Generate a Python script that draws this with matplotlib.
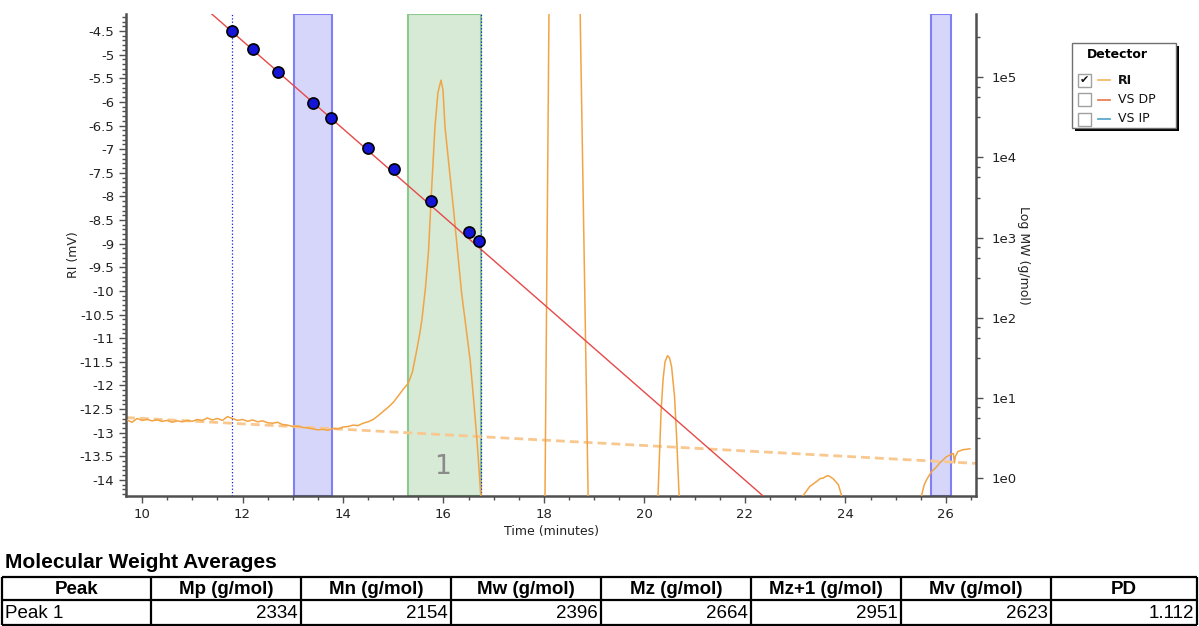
import numpy as np
import matplotlib.pyplot as plt
from matplotlib.patches import Rectangle
from matplotlib.ticker import MultipleLocator, FixedLocator, FixedFormatter

# RI detector trace: time (min) and signal (mV); values below/above the window are off-scale
ri_time = [9.72, 9.8, 9.9, 10.0, 10.1, 10.2, 10.3, 10.4, 10.5, 10.6, 10.7, 10.8, 10.9,
           11.0, 11.1, 11.2, 11.3, 11.4, 11.5, 11.6, 11.7, 11.8, 11.9, 12.0, 12.1, 12.2,
           12.3, 12.4, 12.5, 12.6, 12.7, 12.8, 12.9, 13.0, 13.1, 13.2, 13.3, 13.4, 13.5,
           13.6, 13.7, 13.8, 13.9, 14.0, 14.1, 14.2, 14.3, 14.4, 14.5, 14.6, 14.7, 14.8,
           14.9, 15.0, 15.1, 15.2, 15.3,
           15.38, 15.45, 15.52, 15.57, 15.64, 15.70, 15.76, 15.83, 15.89, 15.95, 15.99,
           16.03, 16.10, 16.20, 16.28, 16.36, 16.45, 16.53, 16.60, 16.67, 16.74, 16.80,
           17.4, 17.98,
           18.02, 18.10, 18.15, 18.70, 18.72, 18.88, 18.95,
           19.6, 20.22,
           20.27, 20.33, 20.37, 20.41, 20.46, 20.50, 20.54, 20.60, 20.64, 20.69, 20.75,
           22.0, 23.10,
           23.16, 23.29, 23.43, 23.50, 23.56, 23.62, 23.66, 23.71, 23.76, 23.86, 23.92, 23.98,
           24.8, 25.48,
           25.52, 25.57, 25.62, 25.67, 25.72, 25.80, 25.88, 25.95, 26.01, 26.07, 26.12,
           26.15, 26.17, 26.19, 26.24, 26.34, 26.42, 26.48]
ri_mv = [-12.74, -12.78, -12.70, -12.74, -12.72, -12.75, -12.73, -12.76, -12.74, -12.78,
         -12.75, -12.77, -12.74, -12.76, -12.72, -12.74, -12.69, -12.73, -12.70, -12.74,
         -12.66, -12.70, -12.74, -12.72, -12.76, -12.73, -12.77, -12.75, -12.79, -12.80,
         -12.78, -12.83, -12.84, -12.87, -12.86, -12.89, -12.90, -12.92, -12.94, -12.93,
         -12.95, -12.91, -12.92, -12.88, -12.87, -12.84, -12.85, -12.80, -12.77, -12.72,
         -12.64, -12.55, -12.46, -12.36, -12.22, -12.08, -11.95,
         -11.72, -11.35, -10.95, -10.61, -9.95, -9.19, -7.92, -6.53, -5.80, -5.54, -5.75,
         -6.53, -7.25, -8.28, -9.15, -10.04, -10.80, -11.46, -12.30, -13.21, -14.27, -15.2,
         -15.5, -15.0,
         -14.4, -4.1, -2.0, -2.0, -4.1, -14.4, -15.2,
         -15.5, -15.0,
         -14.33, -12.58, -11.88, -11.50, -11.37, -11.42, -11.60, -12.24, -13.08, -14.33, -15.0,
         -15.5, -15.0,
         -14.33, -14.14, -14.03, -13.97, -13.96, -13.92, -13.91, -13.94, -13.98, -14.10, -14.31, -15.0,
         -15.5, -15.0,
         -14.31, -14.10, -13.99, -13.90, -13.82, -13.74, -13.64, -13.57, -13.51, -13.48, -13.45,
         -13.44, -13.64, -13.50, -13.40, -13.36, -13.35, -13.34]

# baseline end points
base_time = [9.68, 26.6]
base_mv = [-12.68, -13.65]

# calibration standards
cal_time = [11.79, 12.21, 12.71, 13.40, 13.76, 14.50, 15.01, 15.75, 16.51, 16.71]
cal_mw = [376000, 224000, 115000, 47300, 30900, 13300, 7080, 2820, 1190, 912]
cal_fit = [-0.548, 12.03]  # log10(MW) = a*t + b

peak_limits = (15.29, 16.74)
flow_regions = [(13.02, 13.78), (25.70, 26.10)]
cal_limits = [11.79, 16.74]

tbl_header = ['Peak', 'Mp (g/mol)', 'Mn (g/mol)', 'Mw (g/mol)', 'Mz (g/mol)',
              'Mz+1 (g/mol)', 'Mv (g/mol)', 'PD']
tbl_row = ['Peak 1', '2334', '2154', '2396', '2664', '2951', '2623', '1.112']

legend_names = ['RI', 'VS DP', 'VS IP']
legend_colors = ['#f7b96a', '#e8805a', '#5aaac8']

W, H = 1199, 626
fig = plt.figure(figsize=(W / 100, H / 100), dpi=100)
ax = fig.add_axes([126 / W, 1 - 496 / H, 850 / W, 482 / H])
ax2 = ax.twinx()

spine_col = '#505050'
for a in (ax, ax2):
    for s in a.spines.values():
        s.set_color(spine_col)
        s.set_linewidth(1.8)
    a.spines['top'].set_visible(False)
ax2.spines['left'].set_visible(False)
ax2.spines['bottom'].set_visible(False)
ax.spines['right'].set_visible(False)

# shaded regions
ax.axvspan(*peak_limits, facecolor='#d6ead6', edgecolor='#8cc98c', lw=1.5, zorder=0)
for lo, hi in flow_regions:
    ax.axvspan(lo, hi, facecolor='#d6d6fb', edgecolor='#8080f4', lw=1.5, zorder=0)
for t in cal_limits:
    ax.axvline(t, color='#1a1ae0', lw=0.9, ls=':', zorder=1)

ax.plot(base_time, base_mv, color='#f8c890', lw=2.0, dashes=(3.2, 1.8), zorder=2)
ax.plot(ri_time, ri_mv, color='#f2a445', lw=1.1, zorder=3)
ax.text(np.mean(peak_limits) - 0.03, -13.72, '1', color='#8a8a8a', fontsize=19,
        ha='center', va='center', zorder=4)

ax.set_xlim(9.68, 26.6)
ax.set_ylim(-14.34, -4.14)
ax.xaxis.set_major_locator(MultipleLocator(2))
ax.xaxis.set_minor_locator(MultipleLocator(0.5))
ax.yaxis.set_major_locator(MultipleLocator(0.5))
ax.yaxis.set_minor_locator(MultipleLocator(0.1))
ax.yaxis.set_major_formatter(plt.FuncFormatter(lambda v, p: f'{v:g}'))
ax.tick_params(which='both', colors=spine_col, labelcolor='#222222', labelsize=9.5, width=1)
ax.tick_params(which='major', length=5)
ax.tick_params(which='minor', length=3)
ax.set_xlabel('Time (minutes)', fontsize=9, color='#222222', labelpad=3)
ax.set_ylabel('RI (mV)', fontsize=9, color='#222222', labelpad=0)

# calibration curve on log MW axis
t_fit = np.array([10.0, 23.0])
ax2.plot(t_fit, 10 ** (cal_fit[0] * t_fit + cal_fit[1]), color='#e84848', lw=1.0, zorder=5)
ax2.plot(cal_time, cal_mw, 'o', ms=8, mfc='#1515d8', mec='black', mew=1.2, zorder=6)
ax2.set_yscale('log')
ax2.set_ylim(10 ** -0.225, 10 ** 5.79)
majors = [10.0 ** n for n in range(6)]
ax2.yaxis.set_major_locator(FixedLocator(majors))
ax2.yaxis.set_major_formatter(FixedFormatter([f'1e{n}' for n in range(6)]))
minors = [10.0 ** (n - d) for n in range(1, 7) for d in (0.12, 0.25, 0.5) if n - d < 5.6]
ax2.yaxis.set_minor_locator(FixedLocator(minors))
ax2.yaxis.set_minor_formatter(FixedFormatter([''] * len(minors)))
ax2.tick_params(which='both', colors=spine_col, labelcolor='#222222', labelsize=9.5, width=1)
ax2.tick_params(which='major', length=5, pad=6)
ax2.tick_params(which='minor', length=3)
ax2.set_ylabel('Log MW (g/mol)', fontsize=9, color='#222222', rotation=270, labelpad=10)

# overlay in pixel coordinates for legend box and table
ov = fig.add_axes([0, 0, 1, 1], zorder=10)
ov.set_xlim(0, W)
ov.set_ylim(H, 0)
ov.axis('off')
ov.patch.set_alpha(0)

ov.add_patch(Rectangle((1074.5, 46), 104, 85, facecolor='black', edgecolor='none'))
ov.add_patch(Rectangle((1071.5, 43), 104, 85, facecolor='white', edgecolor='#707070', lw=1))
ov.text(1117, 55, 'Detector', fontsize=9, fontweight='bold', ha='center', va='center')
for i, (name, col) in enumerate(zip(legend_names, legend_colors)):
    yc = 80 + i * 19.5
    ov.add_patch(Rectangle((1077.5, yc - 6.5), 13, 13, facecolor='white', edgecolor='#a0a0a0', lw=1))
    if i == 0:
        ov.text(1084, yc, '\u2714', fontsize=8, ha='center', va='center', color='#111111')
    ov.plot([1098, 1110], [yc, yc], color=col, lw=1.3)
    ov.text(1118, yc, name, fontsize=9, ha='left', va='center',
            fontweight='bold' if i == 0 else 'normal', color='#111111')

tfont = 'Liberation Sans'
ov.text(5, 563, 'Molecular Weight Averages', fontsize=15, fontweight='bold',
        family=tfont, ha='left', va='center')
edges = [2, 151, 301, 451, 601, 751, 901, 1051, 1197]
y_top, y_mid, y_bot = 577, 600, 625
for x in edges:
    ov.plot([x, x], [y_top, y_bot], color='black', lw=1.6, solid_capstyle='butt')
for y in (y_top, y_mid, y_bot):
    ov.plot([edges[0], edges[-1]], [y, y], color='black', lw=1.6, solid_capstyle='butt')
for i, txt in enumerate(tbl_header):
    ov.text((edges[i] + edges[i + 1]) / 2, 589, txt, fontsize=13.5, fontweight='bold',
            family=tfont, ha='center', va='center')
for i, txt in enumerate(tbl_row):
    if i == 0:
        ov.text(edges[0] + 3, 613, txt, fontsize=13.5, family=tfont, ha='left', va='center')
    else:
        ov.text(edges[i + 1] - 3, 613, txt, fontsize=13.5, family=tfont, ha='right', va='center')

fig.savefig('out.png', dpi=100)
